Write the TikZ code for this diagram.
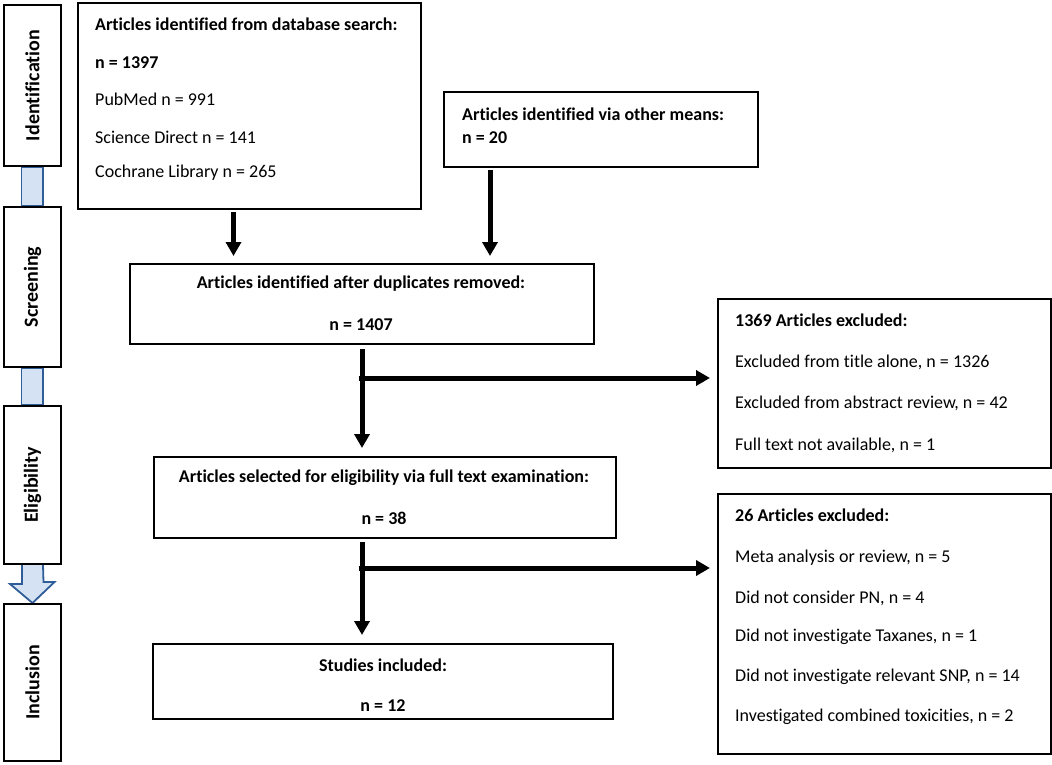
\documentclass[tikz,border=0pt]{standalone}
\usepackage{fontspec}
\setmainfont{Carlito}[Ligatures={NoCommon}]
\usetikzlibrary{arrows.meta}
\definecolor{pipefill}{HTML}{D5E2F3}
\definecolor{pipeline}{HTML}{2F5D97}
\tikzset{
  box/.style={draw=black, line width=2pt, inner sep=0pt, anchor=north west},
  stagebox/.style={box},
  stagetxt/.style={rotate=90, font=\fontsize{20}{24}\selectfont\bfseries, inner sep=0pt},
  txt/.style={anchor=west, inner sep=0pt, font=\fontsize{18}{22}\selectfont},
  btxt/.style={txt, font=\fontsize{18}{22}\selectfont\bfseries},
  ctxt/.style={inner sep=0pt, font=\fontsize{18}{22}\selectfont\bfseries},
  arr/.style={line width=5pt, -{Triangle[length=14pt,width=15pt]}},
  pipe/.style={fill=pipefill, draw=pipeline, line width=1.8pt}
}
\begin{document}
\begin{tikzpicture}[x=1pt,y=-1pt]
\useasboundingbox (0,0) rectangle (1052,765);
% stage boxes
\node[stagebox, minimum width=57pt, minimum height=161pt] (s1) at (3,4) {};
\node[stagebox, minimum width=57pt, minimum height=160pt] (s2) at (3,206) {};
\node[stagebox, minimum width=57pt, minimum height=158pt] (s3) at (3,405) {};
\node[stagebox, minimum width=57pt, minimum height=157pt] (s4) at (3,603) {};
% pipes
\draw[pipe] ([xshift=-11pt]s1.south) rectangle ([xshift=10.5pt]s2.north);
\draw[pipe] ([xshift=-11pt]s2.south) rectangle ([xshift=10.5pt]s3.north);
\draw[pipe, line join=miter] ([xshift=-10.5pt]s3.south) -- ++(0,19) -- ++(-12,0) -- (s4.north) -- ++(22,-21) -- ++(-11,0) -- ([xshift=10.5pt]s3.south);
% redraw stage boxes over pipes
\node[stagebox, minimum width=57pt, minimum height=161pt, fill=white] at (3,4) {};
\node[stagebox, minimum width=57pt, minimum height=160pt, fill=white] at (3,206) {};
\node[stagebox, minimum width=57pt, minimum height=158pt, fill=white] at (3,405) {};
\node[stagebox, minimum width=57pt, minimum height=157pt, fill=white] at (3,603) {};
\node[stagetxt] (t1) at (s1.center) {Identification};
\node[stagetxt] (t2) at (s2.center) {Screening};
\node[stagetxt] (t3) at (s3.center) {Eligibility};
\node[stagetxt] (t4) at (s4.center) {Inclusion};
% main boxes
\node[box, minimum width=343pt, minimum height=206pt] (b1) at (77,2) {};
\node[box, minimum width=314pt, minimum height=75pt] (b2) at (443,91) {};
\node[box, minimum width=464pt, minimum height=80pt] (b3) at (129,263) {};
\node[box, minimum width=333pt, minimum height=169pt] (b4) at (717,298) {};
\node[box, minimum width=462pt, minimum height=81pt] (b5) at (153,456) {};
\node[box, minimum width=460pt, minimum height=75pt] (b7) at (152,643) {};
\node[box, minimum width=333pt, minimum height=260pt] (b6) at (717,493) {};
% box texts
\node[btxt] (l11) at (95,24) {Articles identified from database search:};
\node[btxt] (l12) at (95,63) {n = 1397};
\node[txt] (l13) at (95,99) {PubMed n = 991};
\node[txt] (l14) at (95,137) {Science Direct n = 141};
\node[txt] (l15) at (95,173) {Cochrane Library n = 265};
\node[btxt] (l21) at (462,114) {Articles identified via other means:};
\node[btxt] (l22) at (462,138) {n = 20};
\node[ctxt] (l31) at (361,284) {Articles identified after duplicates removed:};
\node[ctxt] (l32) at (361,325) {n = 1407};
\node[btxt] (l41) at (735,320) {1369 Articles excluded:};
\node[txt] (l42) at (735,362) {Excluded from title alone, n = 1326};
\node[txt] (l43) at (735,403) {Excluded from abstract review, n = 42};
\node[txt] (l44) at (735,445) {Full text not available, n = 1};
\node[ctxt] (l51) at (384,478) {Articles selected for eligibility via full text examination:};
\node[ctxt] (l52) at (384,518) {n = 38};
\node[btxt] (l61) at (735,515) {26 Articles excluded:};
\node[txt] (l62) at (735,558) {Meta analysis or review, n = 5};
\node[txt] (l63) at (735,598) {Did not consider PN, n = 4};
\node[txt] (l64) at (735,637) {Did not investigate Taxanes, n = 1};
\node[txt] (l65) at (735,677) {Did not investigate relevant SNP, n = 14};
\node[txt] (l66) at (735,717) {Investigated combined toxicities, n = 2};
\node[ctxt] (l71) at (383,665) {Studies included:};
\node[ctxt] (l72) at (383,706) {n = 12};
% connectors
\draw[arr, shorten <=2pt, shorten >=7pt] ([xshift=-16pt]b1.south) -- ([xshift=-16pt]b1.south |- b3.north);
\draw[arr, shorten <=2pt, shorten >=7pt] ([xshift=-111pt]b2.south) -- ([xshift=-111pt]b2.south |- b3.north);
\draw[arr, shorten <=4pt, shorten >=8pt] (b3.south) -- (b3.south |- b5.north);
\coordinate (j1) at (361,378);
\draw[arr, shorten >=7pt] ([xshift=-2.5pt]j1) -- (j1 -| b4.west);
\draw[arr, shorten <=3pt, shorten >=8pt] (b3.south |- b5.south) -- (b3.south |- b7.north);
\coordinate (j2) at (361,568);
\draw[arr, shorten >=7pt] ([xshift=-2.5pt]j2) -- (j2 -| b6.west);
\end{tikzpicture}
\end{document}
